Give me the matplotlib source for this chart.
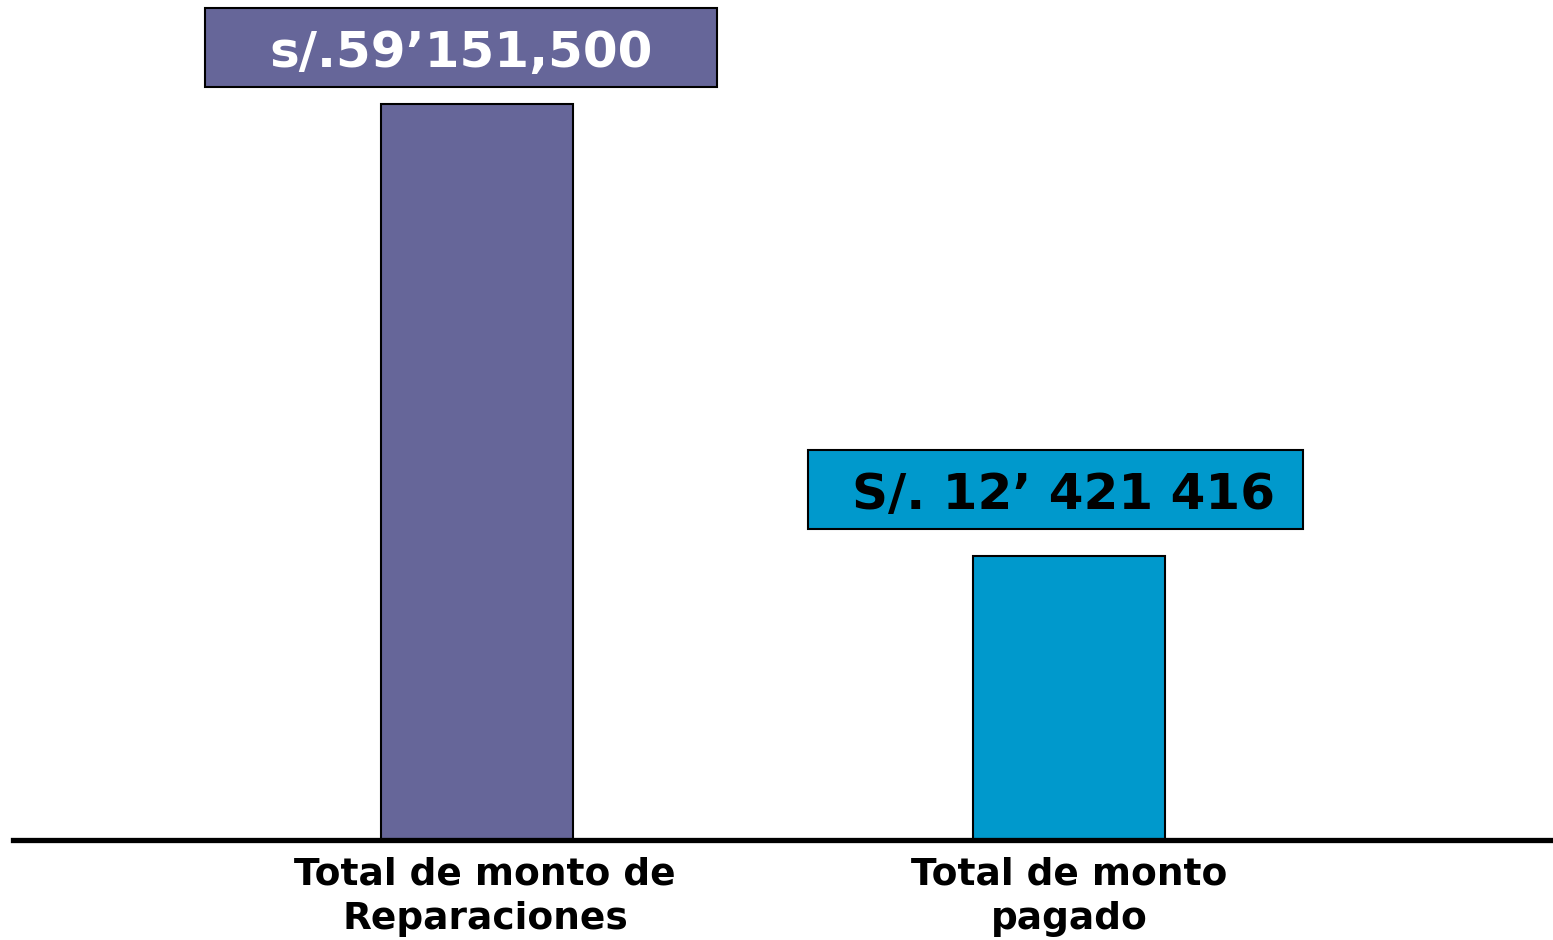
import matplotlib
matplotlib.use("Agg")
import matplotlib.pyplot as plt
from matplotlib.patches import Rectangle
from matplotlib.transforms import ScaledTranslation

# Data
categories = ["Total de monto de\nReparaciones", "Total de monto\npagado"]
bar_heights = [736, 284]          # drawn heights
value_labels = ["s/.59\u2019151,500", "S/. 12\u2019 421 416"]
bar_colors = ["#666699", "#0099CC"]
label_text_colors = ["white", "black"]

fig = plt.figure(figsize=(15.53, 9.40), dpi=100)
W, H = 1553, 940
ax = fig.add_axes([13 / W, (H - 840) / H, (W - 13) / W, 840 / H])

x = [0, 1]
ax.bar(x, bar_heights, width=192 / 592, color=bar_colors,
       edgecolor="black", linewidth=1.5, zorder=2)

ax.set_xlim((13 - 477) / 592, (1553 - 477) / 592)
ax.set_ylim(0, 840)

for s in ["top", "right", "left"]:
    ax.spines[s].set_visible(False)
ax.spines["bottom"].set_linewidth(3.8)
ax.spines["bottom"].set_zorder(3)
ax.set_yticks([])
ax.set_xticks(x)
ax.set_xticklabels(categories, fontsize=27, fontweight="bold",
                   family="DejaVu Sans", linespacing=1.3)
ax.tick_params(axis="x", length=0, pad=12)
tl = ax.get_xticklabels()
tl[0].set_transform(tl[0].get_transform() + ScaledTranslation(8 / 100, 0, fig.dpi_scale_trans))

# value boxes (layout in pixels converted to data coords)
boxes = [  # (x0, x1, ytop_px, ybot_px, text center x px)
    (205, 717, 8, 87, 461),
    (808, 1303, 450, 529, 1064),
]
for (bx0, bx1, by0, by1, tcx), lab, col, tcol in zip(boxes, value_labels, bar_colors, label_text_colors):
    dx0 = (bx0 - 477) / 592
    dx1 = (bx1 - 477) / 592
    dy0 = 840 - by1
    dy1 = 840 - by0
    ax.add_patch(Rectangle((dx0, dy0), dx1 - dx0, dy1 - dy0, facecolor=col,
                           edgecolor="black", linewidth=1.5, clip_on=False, zorder=4))
    ax.text((tcx - 477) / 592, (dy0 + dy1) / 2, lab, color=tcol, fontsize=36,
            fontweight="bold", ha="center", va="center_baseline", zorder=5)

fig.savefig("out.png", dpi=100)
